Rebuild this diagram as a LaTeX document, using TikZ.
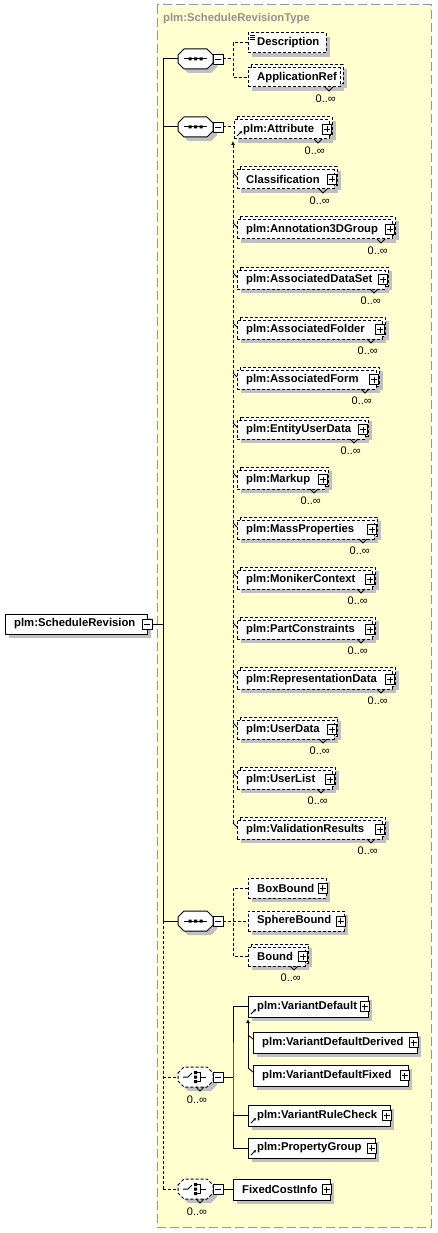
\documentclass[tikz,border=0pt]{standalone}
\usepackage{fontspec}
\setmainfont{Liberation Sans}
\usetikzlibrary{calc,arrows.meta}
\pgfdeclarelayer{bg}\pgfdeclarelayer{shadow}
\pgfsetlayers{bg,shadow,main}
\definecolor{typefill}{RGB}{255,255,208}
\definecolor{typeborder}{RGB}{150,150,150}
\definecolor{shadowc}{RGB}{192,192,192}
\definecolor{titlegray}{RGB}{145,145,145}
\tikzset{
  dsh/.style={dash pattern=on 3pt off 2pt},
  conn/.style={line width=1pt},
  elbox/.style={draw=black,fill=white,line width=1pt,inner sep=0pt,outer sep=0pt,anchor=north west},
  lbl/.style={font=\fontsize{11.3}{13}\selectfont\bfseries,inner sep=0pt,anchor=west},
  occ/.style={font=\fontsize{11}{13}\selectfont,inner sep=0pt},
  btn/.style={draw=black,fill=white,line width=0.8pt,inner sep=0pt,outer sep=0pt},
}
% box: name, x1, y1, x2, y2, style, label
\newcommand{\mkbox}[7]{%
  \begin{pgfonlayer}{shadow}\fill[shadowc] (#2+4,#3+4) rectangle (#4+4,#5+4);\end{pgfonlayer}%
  \node[elbox,#6,minimum width=#4-#2,minimum height=#5-#3] (#1) at (#2,#3) {};%
  \node[lbl] (#1-t) at ($(#1.west)+(9,0)$) {#7};%
}
% multi-occurrence box
\newcommand{\mkmulti}[7]{%
  \begin{pgfonlayer}{shadow}\fill[shadowc] (#2+7,#3+1) rectangle (#4+7,#5+1);\end{pgfonlayer}%
  \filldraw[fill=white,line width=1pt,#6] (#2+3,#3-3) rectangle (#4+3,#5-3);%
  \mkbox{#1}{#2}{#3}{#4}{#5}{#6}{#7}%
  \draw[line width=0.8pt] (#4-15,#5) -- (#4-11,#5+4) -- (#4-7,#5);%
  \node[occ,anchor=east] (#1-o) at (#4-4,#5+12) {0..∞};%
}
% plus button: name, offset from east
\newcommand{\plusb}[2][-3.5]{%
  \node[btn,minimum width=9pt,minimum height=10pt] (#2-p) at ($(#2.east)+(#1,0)$) {};%
  \draw[line width=0.8pt] ($(#2-p.center)+(-3,0)$) -- ($(#2-p.center)+(3,0)$)
     ($(#2-p.center)+(0,-3)$) -- ($(#2-p.center)+(0,3)$);%
}
\newcommand{\plusm}[1]{\plusb[-2]{#1}}
\newcommand{\minusb}[3]{%
  \node[btn,minimum width=10pt,minimum height=10pt] (#1) at (#2,#3) {};%
  \draw[line width=0.8pt] ($(#1.center)+(-3,0)$) -- ($(#1.center)+(3,0)$);%
}
\newcommand{\refarr}[1]{%
  \draw[line width=0.9pt,-{Stealth[length=3pt,width=3pt]}] ($(#1.south west)+(3,-3)$) -- ($(#1.south west)+(8,-8)$);%
}
% compositor: name, cy, border style
\newcommand{\comp}[3]{%
  \begin{pgfonlayer}{shadow}\fill[shadowc] (182,#2) -- (188,#2-6) -- (211,#2-6) -- (217,#2) -- (217,#2+8) -- (211,#2+14) -- (188,#2+14) -- (182,#2+8) -- cycle;\end{pgfonlayer}%
  \node[inner sep=0pt,outer sep=0pt,minimum width=35pt,minimum height=20pt] (#1) at (195.5,#2) {};%
  \filldraw[fill=white,line width=1pt,#3] (178,#2-4) -- (184,#2-10) -- (207,#2-10) -- (213,#2-4) -- (213,#2+4) -- (207,#2+10) -- (184,#2+10) -- (178,#2+4) -- cycle;%
  \minusb{#1-m}{218}{#2}%
}
\newcommand{\seqicon}[1]{%
  \draw[line width=1pt] (184,#1) -- (207,#1);%
  \fill (188.5,#1-1.5) rectangle (191.5,#1+1.5) (194,#1-1.5) rectangle (197,#1+1.5) (199.5,#1-1.5) rectangle (202.5,#1+1.5);%
}
\newcommand{\choiceicon}[1]{%
  \draw[line width=1pt] (183,#1) -- (188,#1) -- (192,#1-4);%
  \fill (194,#1-6) rectangle (197,#1-3) (194,#1-1.5) rectangle (197,#1+1.5) (194,#1+3) rectangle (197,#1+6);%
  \draw[line width=1pt] (197,#1-4.5) -- (200,#1-4.5) -- (200,#1+4.5) -- (197,#1+4.5) (200,#1) -- (206,#1);%
  \draw[line width=0.8pt] (196,#1+10) -- (200,#1+14) -- (204,#1+10);%
}
\newcommand{\tick}[2]{%
  \draw[line width=0.8pt] ($(#1.north west)+(-#2,3)$) -- ($(#1.north west)+(0,7)$);%
}

\begin{document}
\begin{tikzpicture}[x=1pt,y=-1pt]
\useasboundingbox (0,0) rectangle (437,1233);
\begin{pgfonlayer}{bg}
  \fill[typefill] (157,5) rectangle (431,1227);
  \draw[typeborder,line width=1pt,dash pattern=on 9pt off 4pt] (157,5) rectangle (431,1227);
\end{pgfonlayer}
\node[font=\fontsize{11.3}{13}\selectfont\bfseries,text=titlegray,inner sep=0pt,anchor=west] (title) at (163,19) {plm:ScheduleRevisionType};

% main element
\mkbox{sr}{5}{614}{147}{634}{solid}{plm:ScheduleRevision}
\minusb{sr-m}{147}{624}

% sequence 1
\comp{s1}{59}{solid}\seqicon{59}
\mkbox{desc}{248}{33}{326}{53}{dsh}{Description}
\draw[line width=0.6pt] (250,35) -- (255,35) (250,37) -- (255,37) (250,39) -- (255,39);
\mkmulti{appref}{248}{68}{340}{87}{dsh}{ApplicationRef}

% sequence 2
\comp{s2}{127}{solid}\seqicon{127}
\mkmulti{attr}{234}{120}{329}{139}{dsh}{plm:Attribute}\plusm{attr}\refarr{attr}
\mkmulti{cls}{237}{170}{334}{189}{dsh}{Classification}\plusm{cls}
\mkmulti{annot}{237}{220}{392}{239}{dsh}{plm:Annotation3DGroup}\plusm{annot}
\mkmulti{ads}{237}{270}{385}{289}{dsh}{plm:AssociatedDataSet}\plusm{ads}
\mkmulti{afold}{237}{320}{382}{339}{dsh}{plm:AssociatedFolder}\plusm{afold}
\mkmulti{aform}{237}{370}{376}{389}{dsh}{plm:AssociatedForm}\plusm{aform}
\mkmulti{eud}{237}{420}{365}{439}{dsh}{plm:EntityUserData}\plusm{eud}
\mkmulti{markup}{237}{470}{325}{489}{dsh}{plm:Markup}\plusm{markup}
\mkmulti{mass}{237}{520}{374}{539}{dsh}{plm:MassProperties}\plusm{mass}
\mkmulti{monik}{237}{570}{372}{589}{dsh}{plm:MonikerContext}\plusm{monik}
\mkmulti{partc}{237}{620}{372}{639}{dsh}{plm:PartConstraints}\plusm{partc}
\mkmulti{repr}{237}{670}{392}{689}{dsh}{plm:RepresentationData}\plusm{repr}
\mkmulti{udata}{237}{720}{334}{739}{dsh}{plm:UserData}\plusm{udata}
\mkmulti{ulist}{237}{770}{332}{789}{dsh}{plm:UserList}\plusm{ulist}
\mkmulti{valres}{237}{820}{382}{839}{dsh}{plm:ValidationResults}\plusm{valres}

% sequence 3
\comp{s3}{921}{solid}\seqicon{921}
\mkbox{boxb}{248}{878}{326}{898}{dsh}{BoxBound}\plusb{boxb}
\mkbox{sphb}{248}{911}{344}{931}{dsh}{SphereBound}\plusb{sphb}
\mkmulti{bound}{248}{947}{305}{966}{dsh}{Bound}\plusm{bound}

% choice 1
\comp{c1}{1077}{dsh}\choiceicon{1077}
\node[occ] (c1-o) at (197,1100) {0..∞};
\mkbox{vdef}{248}{996}{368}{1017}{solid}{plm:VariantDefault}\plusb{vdef}\refarr{vdef}
\mkbox{vdd}{253}{1032}{417}{1053}{solid}{plm:VariantDefaultDerived}\plusb{vdd}
\mkbox{vdf}{253}{1065}{408}{1086}{solid}{plm:VariantDefaultFixed}\plusb{vdf}
\mkbox{vrc}{248}{1105}{390}{1126}{solid}{plm:VariantRuleCheck}\plusb{vrc}\refarr{vrc}
\mkbox{pg}{248}{1138}{375}{1158}{solid}{plm:PropertyGroup}\plusb{pg}\refarr{pg}

% choice 2
\comp{c2}{1189}{dsh}\choiceicon{1189}
\node[occ] (c2-o) at (197,1212) {0..∞};
\mkbox{fci}{233}{1179}{330}{1200}{solid}{FixedCostInfo}\plusb{fci}

% trunk
\coordinate (tTop) at (163,59);
\coordinate (tMid) at (163,624);
\coordinate (tS3) at (163,921);
\coordinate (tC1) at (163,1077);
\coordinate (tBot) at (163,1189);
\draw[conn] (tTop) -- (tS3);
\draw[conn,dsh] (tS3) -- (tBot);
\draw[conn] (sr-m.east) -- (tMid);
\draw[conn] (tTop) -- (s1.west);
\draw[conn] (s2.west -| tTop) -- (s2.west);
\draw[conn] (tS3) -- (s3.west);
\draw[conn,dsh] (tC1) -- (c1.west);
\draw[conn,dsh] (tBot) -- (c2.west);

% sequence 1 connectors
\coordinate (j1) at (233,59);
\draw[conn,dsh] (s1-m.east) -- (j1);
\draw[conn,dsh] (desc.west) -| (j1) |- (appref.west);

% sequence 2 connectors
\draw[conn,dsh] (s2-m.east) -- (s2-m.east -| attr.west);
\coordinate (v2t) at ($(attr.south west)+(-1,2)$);
\coordinate (v2b) at ($(valres.north west)+(-4,3)$);
\draw[conn,dsh] (v2b) -- ($(v2t)+(0,4)$);
\draw[conn,-{Latex[length=4pt,width=4pt]}] ($(v2t)+(0,5)$) -- (v2t);
\foreach \m in {cls,annot,ads,afold,aform,eud,markup,mass,monik,partc,repr,udata,ulist,valres}{\tick{\m}{4}}

% sequence 3 connectors
\coordinate (j2) at (233,921);
\draw[conn,dsh] (s3-m.east) -- (s3-m.east -| sphb.west);
\draw[conn,dsh] (boxb.west) -| (j2) |- (bound.west);

% choice 1 connectors
\coordinate (j3) at (233,1077);
\draw[conn] (c1-m.east) -- (j3);
\draw[conn] (vdef.west) -| (j3) |- (pg.west);
\draw[conn] (vrc.west) -- (vrc.west -| j3);
\coordinate (v3t) at ($(vdef.south west)+(0,2)$);
\coordinate (v3b) at ($(vdf.north west)+(-5,3)$);
\draw[conn] (v3b) -- ($(v3t)+(0,4)$);
\draw[conn,-{Latex[length=4pt,width=4pt]}] ($(v3t)+(0,5)$) -- (v3t);
\tick{vdd}{5}\tick{vdf}{5}

% choice 2 connector
\draw[conn] (c2-m.east) -- (c2-m.east -| fci.west);
\end{tikzpicture}
\end{document}
